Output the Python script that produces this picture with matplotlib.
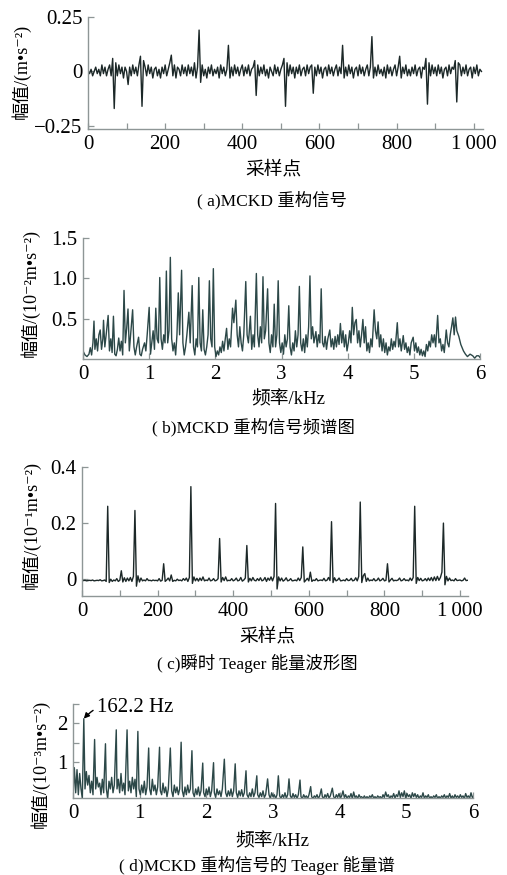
import numpy as np
import matplotlib
matplotlib.use('Agg')
import matplotlib.pyplot as plt
from matplotlib.ticker import FixedLocator, FixedFormatter

plt.rcParams['font.family'] = ['Liberation Serif', 'Noto Sans CJK SC', 'DejaVu Sans']

# ---------------- data ----------------
# (a) MCKD reconstructed signal, one value every 4 samples (m/s^2)
a_step = 4
a_vals = [
    0.00, -0.01, 0.01, -0.02, 0.00, 0.02, -0.01, 0.01, -0.02, 0.03, -0.01, 0.02, -0.02, 0.01, 0.03, -0.02,
    0.06, -0.17, 0.04, -0.02, 0.03, -0.01, 0.02, -0.03, 0.02, 0.00, -0.06, 0.02, -0.02, 0.03, -0.01, 0.02,
    -0.02, 0.03, 0.07, -0.16, 0.05, 0.02, -0.02, 0.03, -0.01, 0.02, -0.03, 0.01, 0.02, -0.02, 0.01, -0.03,
    0.02, -0.01, 0.03, -0.02, 0.01, 0.04, 0.075, -0.02, 0.03, -0.03, 0.02, 0.01, -0.02, 0.03, -0.01, 0.02,
    -0.02, 0.03, -0.01, 0.02, -0.02, 0.04, -0.03, 0.02, 0.19, -0.05, 0.03, -0.02, 0.01, -0.03, 0.02, -0.01,
    0.03, -0.02, 0.01, -0.01, 0.02, -0.03, 0.03, -0.01, 0.02, -0.02, 0.01, 0.12, -0.03, 0.02, -0.02, 0.03,
    -0.01, 0.02, -0.02, 0.01, 0.03, -0.02, 0.02, -0.01, 0.03, -0.02, 0.01, 0.02, 0.05, -0.11, 0.03, -0.02,
    0.02, -0.01, 0.03, -0.02, 0.01, -0.03, 0.02, 0.00, -0.02, 0.03, -0.01, 0.02, -0.02, 0.01, 0.03, 0.06,
    -0.16, 0.04, -0.02, 0.03, -0.01, 0.02, -0.03, 0.02, -0.01, 0.03, -0.02, 0.01, 0.02, -0.02, 0.03, -0.01,
    0.02, 0.03, -0.10, 0.02, -0.02, 0.03, -0.01, 0.02, -0.03, 0.01, 0.02, -0.02, 0.03, -0.01, 0.02, -0.02,
    0.01, 0.03, -0.02, 0.02, -0.01, 0.12, -0.03, 0.02, -0.02, 0.03, -0.01, 0.02, -0.03, 0.01, 0.02, -0.02,
    0.03, -0.01, 0.02, -0.02, 0.01, 0.03, -0.02, 0.02, 0.16, -0.03, 0.02, -0.02, 0.03, -0.01, 0.01, -0.02,
    0.02, -0.03, 0.03, -0.01, 0.02, -0.02, 0.01, 0.03, -0.02, 0.02, 0.07, -0.03, 0.02, -0.01, 0.03, -0.02,
    0.01, -0.02, 0.02, -0.01, 0.03, -0.02, 0.01, 0.02, -0.03, 0.02, 0.01, 0.06, -0.15, 0.04, -0.02, 0.03,
    -0.01, 0.02, -0.02, 0.03, -0.01, 0.02, -0.03, 0.01, 0.02, -0.02, 0.03, -0.01, 0.02, 0.01, 0.05, -0.14,
    0.04, 0.03, -0.02, 0.02, -0.01, 0.03, -0.02, 0.01, 0.02, -0.03, 0.02, -0.01, 0.03, -0.02, 0.01, 0.00,
]

# (b) spectrum of reconstructed signal: frequency (kHz) / amplitude (1e-2 m/s^2)
b_freq = [
    0.00, 0.03, 0.06, 0.09, 0.11, 0.13, 0.15, 0.166, 0.18, 0.20, 0.22, 0.24, 0.26, 0.28, 0.30, 0.31, 0.33, 0.35, 0.38, 0.40,
    0.42, 0.44, 0.46, 0.48, 0.50, 0.52, 0.54, 0.56, 0.58, 0.60, 0.62, 0.64, 0.66, 0.68, 0.70, 0.72, 0.75, 0.77, 0.79, 0.81,
    0.84, 0.86, 0.88, 0.90, 0.93, 0.95, 0.97, 1.00, 1.02, 1.04, 1.06, 1.08, 1.10, 1.12, 1.14, 1.16, 1.18, 1.20, 1.22, 1.24,
    1.26, 1.28, 1.30, 1.32, 1.34, 1.36, 1.38, 1.40, 1.42, 1.44, 1.46, 1.49, 1.51, 1.53, 1.55, 1.57, 1.60, 1.62, 1.65, 1.67,
    1.69, 1.71, 1.73, 1.75, 1.77, 1.79, 1.81, 1.83, 1.85, 1.87, 1.89, 1.91, 1.93, 1.95, 1.97, 1.99, 2.01, 2.03, 2.05, 2.07,
    2.09, 2.11, 2.13, 2.15, 2.17, 2.19, 2.21, 2.23, 2.26, 2.28, 2.31, 2.33, 2.35, 2.37, 2.39, 2.41, 2.43, 2.46, 2.48, 2.50,
    2.53, 2.55, 2.57, 2.59, 2.62, 2.64, 2.66, 2.68, 2.70, 2.72, 2.74, 2.76, 2.79, 2.81, 2.83, 2.85, 2.87, 2.89, 2.91, 2.93,
    2.95, 2.97, 2.99, 3.01, 3.03, 3.05, 3.07, 3.09, 3.11, 3.13, 3.15, 3.17, 3.19, 3.21, 3.23, 3.25, 3.27, 3.29, 3.31, 3.33,
    3.35, 3.37, 3.39, 3.41, 3.43, 3.45, 3.47, 3.49, 3.52, 3.54, 3.56, 3.58, 3.60, 3.62, 3.64, 3.66, 3.68, 3.70, 3.73, 3.75,
    3.77, 3.79, 3.81, 3.83, 3.85, 3.87, 3.89, 3.91, 3.93, 3.95, 3.97, 3.99, 4.01, 4.03, 4.05, 4.07, 4.09, 4.11, 4.13, 4.15,
    4.17, 4.19, 4.21, 4.23, 4.25, 4.27, 4.29, 4.31, 4.33, 4.35, 4.37, 4.40, 4.42, 4.44, 4.46, 4.48, 4.50, 4.52, 4.54, 4.56,
    4.58, 4.60, 4.62, 4.64, 4.66, 4.68, 4.70, 4.72, 4.75, 4.77, 4.79, 4.81, 4.84, 4.86, 4.88, 4.90, 4.92, 4.94, 4.96, 4.99,
    5.01, 5.03, 5.05, 5.07, 5.09, 5.11, 5.13, 5.15, 5.17, 5.19, 5.21, 5.23, 5.25, 5.27, 5.29, 5.31, 5.33, 5.36, 5.38, 5.40,
    5.42, 5.44, 5.46, 5.49, 5.51, 5.53, 5.55, 5.57, 5.59, 5.61, 5.63, 5.65, 5.68, 5.71, 5.75, 5.78, 5.81, 5.85, 5.89, 5.92,
    5.95, 5.98, 6.00,
]
b_amp = [
    0.10, 0.05, 0.03, 0.06, 0.14, 0.05, 0.20, 0.47, 0.12, 0.25, 0.10, 0.30, 0.36, 0.12, 0.25, 0.48, 0.15, 0.30, 0.54, 0.10,
    0.25, 0.08, 0.53, 0.06, 0.04, 0.12, 0.26, 0.10, 0.22, 0.05, 0.85, 0.20, 0.38, 0.62, 0.10, 0.30, 0.61, 0.15, 0.05, 0.15,
    0.27, 0.06, 0.04, 0.12, 0.20, 0.10, 0.30, 0.64, 0.06, 0.20, 0.35, 0.12, 0.63, 0.25, 0.20, 1.01, 0.25, 0.12, 0.30, 0.20,
    1.09, 0.20, 0.35, 1.26, 0.25, 0.10, 0.20, 0.05, 0.30, 0.82, 0.30, 1.10, 0.20, 0.05, 0.15, 0.30, 0.58, 0.20, 0.91, 0.15,
    0.05, 0.25, 0.15, 1.01, 0.20, 0.10, 0.61, 0.12, 0.05, 0.15, 0.30, 0.97, 0.25, 0.15, 1.12, 0.15, 0.03, 0.10, 0.05, 0.15,
    0.08, 0.22, 0.10, 0.25, 0.38, 0.12, 0.25, 0.15, 0.63, 0.45, 0.73, 0.30, 0.15, 0.40, 0.20, 0.10, 0.30, 0.96, 0.30, 0.20,
    0.53, 0.12, 0.30, 0.15, 1.06, 0.30, 0.15, 0.40, 0.20, 1.02, 0.25, 0.35, 0.87, 0.20, 0.08, 0.30, 0.15, 0.68, 0.15, 0.30,
    0.97, 0.20, 0.08, 0.20, 0.06, 0.30, 0.15, 0.25, 0.66, 0.15, 0.05, 0.20, 0.10, 0.35, 0.15, 0.30, 0.90, 0.20, 0.10, 0.25,
    0.08, 0.30, 0.15, 0.40, 1.03, 0.25, 0.40, 0.20, 0.34, 0.15, 0.30, 0.20, 0.87, 0.20, 0.15, 0.28, 0.12, 0.25, 0.36, 0.15,
    0.25, 0.12, 0.28, 0.15, 0.30, 0.18, 0.44, 0.20, 0.35, 0.15, 0.30, 0.10, 0.20, 0.35, 0.20, 0.64, 0.30, 0.45, 0.49, 0.20,
    0.35, 0.15, 0.30, 0.49, 0.20, 0.40, 0.10, 0.20, 0.08, 0.25, 0.15, 0.61, 0.35, 0.25, 0.46, 0.15, 0.30, 0.10, 0.25, 0.08,
    0.20, 0.05, 0.15, 0.10, 0.25, 0.12, 0.22, 0.15, 0.45, 0.15, 0.25, 0.10, 0.29, 0.12, 0.20, 0.08, 0.15, 0.05, 0.20, 0.27,
    0.10, 0.20, 0.08, 0.15, 0.05, 0.12, 0.04, 0.10, 0.03, 0.18, 0.10, 0.22, 0.15, 0.30, 0.20, 0.30, 0.15, 0.54, 0.20, 0.25,
    0.10, 0.18, 0.08, 0.36, 0.20, 0.15, 0.30, 0.40, 0.51, 0.30, 0.52, 0.35, 0.28, 0.18, 0.10, 0.06, 0.03, 0.06, 0.04, 0.01,
    0.04, 0.04, 0.02,
]

# (c) instantaneous Teager energy, one value every 4 samples (1e-1 m/s^2)
c_step = 4
c_vals = [
    -0.005, -0.005, -0.004, -0.006, -0.005, -0.004, -0.005, -0.003, -0.006, -0.005, -0.004, -0.005, -0.002, -0.006, -0.005, -0.003,
    -0.008, 0.26, -0.012, 0.000, -0.008, -0.003, -0.006, 0.002, -0.008, -0.004, 0.03, -0.010, 0.005, -0.008, 0.004, -0.006,
    0.006, -0.008, 0.010, 0.245, -0.025, 0.012, -0.010, 0.004, -0.006, -0.003, -0.006, 0.002, -0.005, -0.004, -0.006, -0.003,
    -0.005, -0.004, -0.006, 0.002, -0.007, -0.004, 0.055, -0.008, -0.003, 0.004, -0.006, 0.015, -0.008, -0.004, -0.006, 0.000,
    -0.005, -0.003, -0.006, 0.002, -0.004, 0.004, -0.008, 0.006, 0.33, -0.015, 0.008, -0.006, 0.003, -0.007, 0.004, -0.005,
    0.008, -0.006, -0.003, -0.005, 0.004, -0.006, -0.004, 0.002, -0.006, -0.004, 0.002, 0.145, -0.010, 0.006, -0.005, 0.008,
    -0.006, -0.004, -0.005, 0.002, -0.006, -0.003, 0.004, -0.006, -0.004, 0.006, -0.007, -0.003, 0.004, 0.12, -0.010, 0.003,
    -0.006, 0.006, -0.004, -0.006, 0.002, -0.005, 0.005, -0.006, -0.003, 0.006, -0.008, 0.004, -0.004, 0.008, -0.006, 0.010,
    0.27, -0.035, 0.008, -0.006, 0.004, -0.007, -0.003, 0.005, -0.006, -0.004, 0.002, -0.006, -0.005, -0.003, -0.006, 0.004,
    -0.005, 0.006, 0.115, -0.010, -0.004, 0.003, -0.006, 0.025, -0.008, -0.003, -0.005, 0.002, -0.006, -0.004, -0.003, -0.005,
    0.003, -0.006, -0.004, 0.006, -0.005, 0.205, -0.012, 0.005, -0.006, -0.003, 0.004, -0.006, -0.005, -0.003, -0.006, 0.002,
    -0.005, -0.004, 0.003, -0.006, -0.004, 0.005, -0.006, 0.010, 0.275, -0.012, 0.012, 0.020, -0.008, 0.004, -0.006, -0.003,
    -0.005, 0.002, -0.006, -0.004, 0.004, -0.006, -0.003, 0.003, -0.006, -0.004, 0.055, -0.010, -0.003, 0.003, -0.006, -0.004,
    -0.005, -0.003, 0.004, -0.006, -0.004, 0.002, -0.005, -0.003, -0.006, 0.004, -0.005, 0.006, 0.26, -0.015, 0.006, -0.005,
    0.003, -0.006, -0.004, 0.002, -0.006, 0.004, -0.005, 0.006, -0.006, 0.008, -0.005, 0.010, -0.004, 0.006, 0.025, 0.20,
    -0.020, 0.010, -0.006, 0.004, -0.005, -0.003, -0.006, 0.002, -0.005, -0.004, -0.003, -0.006, -0.004, 0.004, -0.005, -0.004,
]

# (d) Teager energy spectrum: frequency (kHz) / amplitude (1e-3 m/s^2)
d_freq = [
    0.00, 0.02, 0.04, 0.06, 0.08, 0.10, 0.12, 0.14, 0.162, 0.18, 0.20, 0.22, 0.24, 0.26, 0.28, 0.30, 0.324, 0.34, 0.36, 0.38,
    0.40, 0.42, 0.44, 0.46, 0.487, 0.50, 0.52, 0.54, 0.56, 0.58, 0.60, 0.62, 0.649, 0.66, 0.68, 0.70, 0.72, 0.74, 0.76, 0.78,
    0.811, 0.83, 0.85, 0.87, 0.89, 0.91, 0.93, 0.95, 0.973, 0.99, 1.01, 1.03, 1.05, 1.07, 1.09, 1.11, 1.135, 1.15, 1.17, 1.19,
    1.21, 1.23, 1.25, 1.27, 1.298, 1.31, 1.33, 1.35, 1.37, 1.39, 1.41, 1.43, 1.46, 1.48, 1.50, 1.52, 1.54, 1.56, 1.58, 1.60,
    1.622, 1.64, 1.66, 1.68, 1.70, 1.72, 1.74, 1.76, 1.784, 1.80, 1.82, 1.84, 1.86, 1.88, 1.90, 1.92, 1.946, 1.96, 1.98, 2.00,
    2.02, 2.04, 2.06, 2.08, 2.108, 2.12, 2.14, 2.16, 2.18, 2.20, 2.22, 2.24, 2.27, 2.29, 2.31, 2.33, 2.35, 2.37, 2.39, 2.41,
    2.433, 2.45, 2.47, 2.49, 2.51, 2.53, 2.55, 2.57, 2.595, 2.61, 2.63, 2.65, 2.67, 2.69, 2.71, 2.73, 2.757, 2.77, 2.79, 2.81,
    2.83, 2.85, 2.87, 2.89, 2.919, 2.94, 2.96, 2.98, 3.00, 3.02, 3.04, 3.06, 3.08, 3.10, 3.12, 3.14, 3.16, 3.18, 3.20, 3.22,
    3.24, 3.26, 3.28, 3.30, 3.32, 3.34, 3.36, 3.38, 3.405, 3.42, 3.44, 3.46, 3.48, 3.50, 3.52, 3.54, 3.565, 3.58, 3.60, 3.62,
    3.64, 3.66, 3.68, 3.70, 3.725, 3.74, 3.76, 3.78, 3.80, 3.82, 3.84, 3.86, 3.89, 3.91, 3.93, 3.95, 3.97, 3.99, 4.01, 4.03,
    4.05, 4.07, 4.09, 4.11, 4.13, 4.15, 4.17, 4.19, 4.21, 4.23, 4.25, 4.27, 4.29, 4.31, 4.33, 4.35, 4.37, 4.39, 4.41, 4.43,
    4.45, 4.47, 4.49, 4.51, 4.53, 4.55, 4.57, 4.59, 4.61, 4.63, 4.65, 4.67, 4.69, 4.71, 4.73, 4.75, 4.77, 4.79, 4.81, 4.83,
    4.85, 4.87, 4.89, 4.91, 4.93, 4.95, 4.97, 4.99, 5.01, 5.03, 5.05, 5.07, 5.09, 5.11, 5.13, 5.15, 5.17, 5.19, 5.21, 5.23,
    5.25, 5.27, 5.29, 5.31, 5.33, 5.35, 5.37, 5.39, 5.41, 5.43, 5.45, 5.47, 5.49, 5.51, 5.53, 5.55, 5.57, 5.59, 5.61, 5.63,
    5.65, 5.67, 5.69, 5.71, 5.73, 5.75, 5.77, 5.79, 5.81, 5.83, 5.85, 5.87, 5.89, 5.91, 5.93, 5.95, 5.97, 5.99, 6.00,
]
d_amp = [
    0.05, 0.85, 0.20, 0.80, 0.15, 0.70, 0.30, 0.05, 2.12, 0.30, 0.75, 0.40, 0.65, 0.20, 0.50, 0.15, 1.58, 0.30, 0.60, 0.35,
    0.45, 0.15, 0.55, 0.20, 1.47, 0.30, 0.05, 0.50, 0.30, 0.60, 0.20, 0.40, 1.83, 0.30, 0.55, 0.20, 0.70, 0.25, 0.45, 0.15,
    1.83, 0.25, 0.50, 0.20, 0.60, 0.30, 0.55, 0.10, 1.79, 0.30, 0.15, 0.40, 0.20, 0.50, 0.15, 0.35, 1.36, 0.30, 0.15, 0.55,
    0.25, 0.40, 0.15, 0.35, 1.38, 0.25, 0.15, 0.45, 0.20, 0.35, 0.10, 0.30, 1.36, 0.25, 0.10, 0.40, 0.20, 0.35, 0.15, 0.30,
    1.51, 0.25, 0.10, 0.35, 0.15, 0.40, 0.20, 0.30, 1.29, 0.20, 0.10, 0.30, 0.15, 0.35, 0.12, 0.25, 0.97, 0.20, 0.10, 0.30,
    0.15, 0.35, 0.10, 0.25, 0.98, 0.20, 0.08, 0.30, 0.15, 0.25, 0.10, 0.30, 1.07, 0.20, 0.10, 0.25, 0.12, 0.30, 0.10, 0.25,
    0.95, 0.20, 0.08, 0.25, 0.12, 0.28, 0.10, 0.20, 0.77, 0.15, 0.08, 0.20, 0.10, 0.30, 0.10, 0.20, 0.64, 0.15, 0.08, 0.20,
    0.10, 0.25, 0.08, 0.15, 0.56, 0.15, 0.05, 0.20, 0.10, 0.15, 0.05, 0.15, 0.64, 0.12, 0.05, 0.15, 0.08, 0.20, 0.06, 0.15,
    0.56, 0.12, 0.06, 0.18, 0.08, 0.15, 0.05, 0.15, 0.53, 0.10, 0.05, 0.15, 0.08, 0.12, 0.05, 0.15, 0.36, 0.10, 0.05, 0.12,
    0.08, 0.15, 0.05, 0.12, 0.30, 0.10, 0.05, 0.15, 0.08, 0.18, 0.06, 0.12, 0.32, 0.10, 0.05, 0.15, 0.08, 0.18, 0.06, 0.12,
    0.25, 0.08, 0.15, 0.05, 0.12, 0.08, 0.18, 0.05, 0.22, 0.08, 0.12, 0.05, 0.15, 0.08, 0.10, 0.05, 0.12, 0.06, 0.10, 0.05,
    0.12, 0.08, 0.15, 0.06, 0.10, 0.05, 0.12, 0.08, 0.10, 0.05, 0.15, 0.08, 0.22, 0.10, 0.15, 0.05, 0.12, 0.08, 0.18, 0.06,
    0.15, 0.10, 0.25, 0.08, 0.20, 0.10, 0.25, 0.06, 0.18, 0.10, 0.15, 0.05, 0.20, 0.10, 0.18, 0.08, 0.15, 0.05, 0.12, 0.08,
    0.20, 0.06, 0.12, 0.08, 0.15, 0.05, 0.10, 0.06, 0.12, 0.08, 0.15, 0.05, 0.10, 0.06, 0.12, 0.08, 0.15, 0.06, 0.12, 0.08,
    0.18, 0.06, 0.12, 0.05, 0.15, 0.08, 0.12, 0.06, 0.15, 0.08, 0.12, 0.05, 0.18, 0.08, 0.12, 0.06, 0.20, 0.08, 0.10,
]

sample_ticks = [0, 200, 400, 600, 800, 1000]
sample_ticklabels = ['0', '200', '400', '600', '800', '1\u2009000']
freq_ticks = [0, 1, 2, 3, 4, 5, 6]
peak_label = '162.2 Hz'
peak_freq = 0.162
peak_amp = 2.12

# ---------------- figure ----------------
W, H = 507, 875
fig = plt.figure(figsize=(W / 100, H / 100), dpi=100)

SPINE = '#8e9696'
DARK = '#1c2828'
SLATE = '#2c4848'
TICK_SIZE = 15


def add_ax(l, r, t, b):
    return fig.add_axes([l / W, 1 - b / H, (r - l) / W, (b - t) / H])


def style(ax):
    for s in ['top', 'right']:
        ax.spines[s].set_visible(False)
    for s in ['left', 'bottom']:
        ax.spines[s].set_color(SPINE)
        ax.spines[s].set_linewidth(1.0)
    ax.tick_params(which='both', direction='in', length=4, width=0.9, color=SPINE,
                   labelsize=TICK_SIZE, pad=4)


def ftext(x, y, s, size=12, rotation=0, **kw):
    fig.text(x / W, 1 - y / H, s, fontsize=size, rotation=rotation,
             ha='center', va='center', **kw)


YL_SIZE = 13

# (a)
ax = add_ax(88, 483, 17, 129)
style(ax)
a_x = np.arange(len(a_vals)) * a_step
ax.plot(a_x, a_vals, color=DARK, lw=1.0)
ax.set_xlim(0, 1024)
ax.set_ylim(-0.264, 0.25)
ax.xaxis.set_major_locator(FixedLocator(sample_ticks))
ax.xaxis.set_major_formatter(FixedFormatter(sample_ticklabels))
ax.xaxis.set_minor_locator(FixedLocator([100, 300, 500, 700, 900]))
ax.set_yticks([-0.25, 0, 0.25])
ax.set_yticklabels(['\u22120.25', '0', '0.25'])
ftext(21, 71, '幅值/(m•s\u207b\u00b2)', size=YL_SIZE, rotation=90)
ftext(273, 170, '采样点', size=13.5)
ftext(272, 200, '( a)MCKD 重构信号', size=12.5)

# (b)
ax = add_ax(83, 480, 238, 359)
style(ax)
ax.plot(b_freq, b_amp, color=SLATE, lw=1.0)
ax.set_xlim(0, 6)
ax.set_ylim(0, 1.5)
ax.set_xticks(freq_ticks)
ax.set_yticks([0.5, 1.0, 1.5])
ax.set_yticklabels(['0.5', '1.0', '1.5'])
ftext(30, 293, '幅值/(10\u207b\u00b2m•s\u207b\u00b2)', size=YL_SIZE, rotation=90)
ftext(288, 400, '频率/kHz', size=13.5)
ftext(253, 427, '( b)MCKD 重构信号频谱图', size=12.5)

# (c)
ax = add_ax(82, 468, 467, 596)
style(ax)
c_x = np.arange(len(c_vals)) * c_step
ax.plot(c_x, c_vals, color=DARK, lw=1.0)
ax.set_xlim(0, 1021)
ax.set_ylim(-0.06, 0.4)
ax.xaxis.set_major_locator(FixedLocator(sample_ticks))
ax.xaxis.set_major_formatter(FixedFormatter(sample_ticklabels))
ax.xaxis.set_minor_locator(FixedLocator([100, 300, 500, 700, 900]))
ax.set_yticks([0, 0.2, 0.4])
ax.set_yticklabels(['0', '0.2', '0.4'])
ftext(31, 525, '幅值/(10\u207b\u00b9m•s\u207b\u00b2)', size=YL_SIZE, rotation=90)
ftext(267, 637, '采样点', size=13.5)
ftext(257, 663, '( c)瞬时 Teager 能量波形图', size=12.5)

# (d)
ax = add_ax(73, 473, 704, 798)
style(ax)
ax.plot(d_freq, d_amp, color=SLATE, lw=1.0)
ax.set_xlim(0, 6)
ax.set_ylim(0.065, 2.5)
ax.set_xticks(freq_ticks)
ax.set_yticks([1, 2])
ax.set_yticklabels(['1', '2'])
ax.yaxis.set_minor_locator(FixedLocator([0.5, 1.5, 2.5]))
ax.annotate(peak_label, xy=(peak_freq, peak_amp), xytext=(0.36, 2.42),
            fontsize=TICK_SIZE, ha='left', va='center', annotation_clip=False,
            arrowprops=dict(arrowstyle='-|>', connectionstyle='arc3,rad=0.35',
                            color='black', lw=1.0, shrinkA=1, shrinkB=0,
                            mutation_scale=8))
ftext(40, 764, '幅值/(10\u207b\u00b3m•s\u207b\u00b2)', size=YL_SIZE, rotation=90)
ftext(272, 842, '频率/kHz', size=13.5)
ftext(257, 865, '( d)MCKD 重构信号的 Teager 能量谱', size=12.5)

fig.savefig('out.png', dpi=100)
